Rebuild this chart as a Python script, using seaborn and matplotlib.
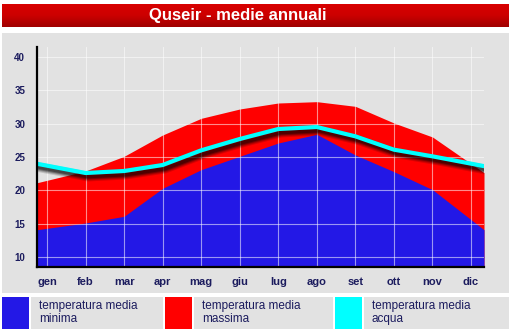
import numpy as np
import pandas as pd
import matplotlib
matplotlib.use("Agg")
import matplotlib.pyplot as plt
import matplotlib.patheffects as pe
from matplotlib.patches import Rectangle
from matplotlib.colors import LinearSegmentedColormap
import seaborn as sns

months = ["gen", "feb", "mar", "apr", "mag", "giu", "lug", "ago", "set", "ott", "nov", "dic"]
temp_min = [14.3, 15.1, 16.1, 20.3, 23.1, 25.1, 27.1, 28.4, 25.3, 22.8, 20.1, 15.6]
temp_max = [21.5, 22.9, 25.1, 28.3, 30.8, 32.2, 33.1, 33.3, 32.6, 30.1, 28.0, 24.0]
temp_acqua = [23.7, 22.6, 22.9, 23.8, 26.0, 27.7, 29.2, 29.5, 28.1, 26.1, 25.1, 24.0]
y_ticks = [10, 15, 20, 25, 30, 35, 40]
legend_labels = ["temperatura media\nminima", "temperatura media\nmassima", "temperatura media\nacqua"]
title = "Quseir - medie annuali"

BLUE = "#2318e6"
RED = "#ff0000"
CYAN = "#00ffff"
PANEL = "#e2e2e2"
NAVY = "#1c1c5e"

sns.set_theme(style="white")
plt.rcParams["font.family"] = ["Liberation Sans", "DejaVu Sans"]

W, H = 514, 332
fig = plt.figure(figsize=(W / 100, H / 100), dpi=100)
fig.patch.set_facecolor("white")

# background layer in pixel coordinates (y down)
bg = fig.add_axes([0, 0, 1, 1], zorder=-10)
bg.set_axis_off()

def rect(x0p, y0p, x1p, y1p, color):
    bg.add_patch(Rectangle((x0p, y0p), x1p - x0p, y1p - y0p, facecolor=color,
                           edgecolor="none"))

# title bar with vertical gradient
grad = np.linspace(0, 1, 64).reshape(-1, 1)
cm = LinearSegmentedColormap.from_list("t", ["#d80000", "#cc0000", "#a00000"])
bg.imshow(grad, aspect="auto", cmap=cm, extent=[2, 509, 27, 4], origin="upper")
bg.set_xlim(0, W)
bg.set_ylim(H, 0)
bg.text(238, 15.5, title, color="white", fontsize=12, fontweight="bold",
        ha="center", va="center")

# gray chart panel
rect(2, 33, 509, 293, PANEL)

# legend boxes
legend_colors = [BLUE, RED, CYAN]
sq = [(2, 29), (165, 192), (335, 362)]
bx = [(31, 163), (194, 333), (364, 509)]
for c, (a, b), (c0, c1), lab in zip(legend_colors, sq, bx, legend_labels):
    rect(a, 297, b, 329, c)
    rect(c0, 297, c1, 329, PANEL)
    bg.text(c0 + 8, 312.5, lab, color=NAVY, fontsize=8.5, ha="left", va="center",
            linespacing=1.1)

# main axes
x0 = -0.259
x1 = 11.336
ax = fig.add_axes([37 / W, 1 - 267 / H, (484 - 37) / W, (267 - 47) / H], zorder=1)
ax.set_facecolor("none")

xs = np.arange(len(months), dtype=float)

def extend(vals):
    v = np.asarray(vals, dtype=float)
    left = v[0] + (v[0] - v[1]) * (xs[0] - x0)
    right = v[-1] + (v[-1] - v[-2]) * (x1 - xs[-1])
    return np.r_[x0, xs, x1], np.r_[left, v, right]

ymin, ymax = 8.5, 41.5
xr, ymx = extend(temp_max)
_, ymn = extend(temp_min)
_, yac = extend(temp_acqua)

ax.fill_between(xr, ymin, ymx, color=RED, lw=0, zorder=1)
ax.fill_between(xr, ymin, ymn, color=BLUE, lw=0, zorder=2)

df = pd.DataFrame({"x": xr, "acqua": yac})
shadow = [pe.SimpleLineShadow(offset=(1.8, -2.6), shadow_color="black", alpha=a, linewidth=w)
          for w, a in ((7, 0.15), (5.5, 0.2), (4, 0.3), (2.5, 0.35))]
sns.lineplot(data=df, x="x", y="acqua", ax=ax, color=CYAN, lw=3.0, zorder=4,
             path_effects=shadow + [pe.Normal()])

# grid
for t in y_ticks:
    ax.axhline(t, color="white", lw=0.8, alpha=0.55, zorder=3)
for xv in xs:
    ax.axvline(xv, color="white", lw=0.8, alpha=0.55, zorder=3)

ax.set_xlim(x0, x1)
ax.set_ylim(ymin, ymax)
ax.set_xticks(xs)
ax.set_xticklabels(months)
ax.set_yticks(y_ticks)
ax.set_yticklabels([str(t) for t in y_ticks])
ax.tick_params(axis="both", length=0, labelcolor=NAVY)
ax.tick_params(axis="y", pad=8.5, labelsize=7)
ax.tick_params(axis="x", pad=7, labelsize=8)
for lab in ax.get_xticklabels() + ax.get_yticklabels():
    lab.set_fontweight("bold")
ax.set_xlabel("")
ax.set_ylabel("")
for s in ["top", "right"]:
    ax.spines[s].set_visible(False)
for s in ["left", "bottom"]:
    ax.spines[s].set_color("black")
    ax.spines[s].set_linewidth(1.6)
    ax.spines[s].set_zorder(6)

fig.savefig("out.png", dpi=100, facecolor="white")
